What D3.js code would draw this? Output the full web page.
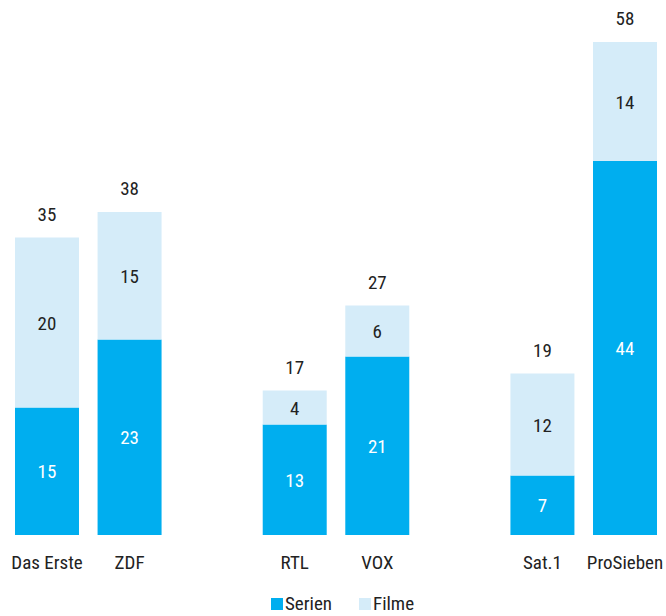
<!DOCTYPE html>
<html>
<head>
<meta charset="utf-8">
<script src="https://cdn.jsdelivr.net/npm/d3@7"></script>
<style>
  body { margin: 0; background: #fff; }
  text { font-family: "Liberation Sans Narrow", "Roboto Condensed", Roboto, sans-serif; font-stretch: condensed; }
</style>
</head>
<body>
<div id="chart"></div>
<script>
// Data
const channels = ['Das Erste', 'ZDF', 'RTL', 'VOX', 'Sat.1', 'ProSieben']
const slots = ['Das Erste', 'ZDF', 'gap1', 'RTL', 'VOX', 'gap2', 'Sat.1', 'ProSieben']
const serien = [15, 23, 13, 21, 7, 44]
const filme = [20, 15, 4, 6, 12, 14]
const seriesNames = ['Serien', 'Filme']
const colors = ['#00aeef', '#d5ecf9']

const width = 666
const height = 616
const baseline = 535

const svg = d3.select('#chart').append('svg').attr('width', width).attr('height', height)

const x = d3.scaleBand().domain(slots).range([15, 657]).paddingInner(0.225).paddingOuter(0)
const y = d3.scaleLinear().domain([0, 58]).range([baseline, 42])

const rows = channels.map((c, i) => ({ channel: c, Serien: serien[i], Filme: filme[i] }))
const stacked = d3.stack().keys(seriesNames)(rows)

// Bars
const layers = svg.selectAll('g.layer').data(stacked).join('g')
  .attr('fill', (d, i) => colors[i])

layers.selectAll('rect').data(d => d).join('rect')
  .attr('x', d => x(d.data.channel))
  .attr('y', d => y(d[1]))
  .attr('width', x.bandwidth())
  .attr('height', d => y(d[0]) - y(d[1]))

// Segment labels
stacked.forEach((layer, li) => {
  svg.append('g').selectAll('text').data(layer).join('text')
    .attr('x', d => x(d.data.channel) + x.bandwidth() / 2)
    .attr('y', d => (y(d[0]) + y(d[1])) / 2 + 7)
    .attr('text-anchor', 'middle')
    .attr('font-size', '19px')
    .attr('fill', li === 0 ? '#ffffff' : '#222222')
    .text(d => d[1] - d[0])
})

// Totals
svg.append('g').selectAll('text').data(rows).join('text')
  .attr('x', d => x(d.channel) + x.bandwidth() / 2)
  .attr('y', d => y(d.Serien + d.Filme) - 17)
  .attr('text-anchor', 'middle')
  .attr('font-size', '19px')
  .attr('fill', '#222222')
  .text(d => d.Serien + d.Filme)

// Category labels
svg.append('g').selectAll('text').data(channels).join('text')
  .attr('x', d => x(d) + x.bandwidth() / 2)
  .attr('y', 569)
  .attr('text-anchor', 'middle')
  .attr('font-size', '19px')
  .attr('fill', '#222222')
  .text(d => d)

// Legend
const legendX = [271, 359]
const legend = svg.append('g').selectAll('g').data(seriesNames).join('g')
  .attr('transform', (d, i) => `translate(${legendX[i]},598)`)
legend.append('rect')
  .attr('width', 12).attr('height', 12)
  .attr('y', 0)
  .attr('fill', (d, i) => colors[i])
legend.append('text')
  .attr('x', 14)
  .attr('y', 12)
  .attr('font-size', '19px')
  .attr('fill', '#222222')
  .text(d => d)
</script>
</body>
</html>
